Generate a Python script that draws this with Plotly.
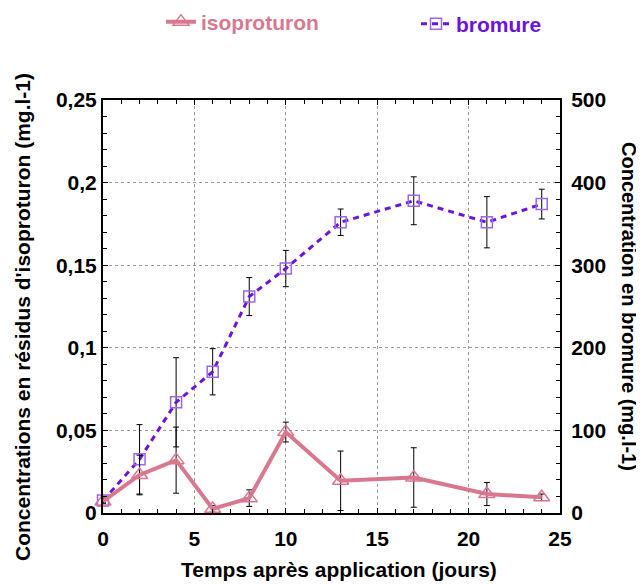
import plotly.graph_objects as go

# Data
jours = [0, 2, 4, 6, 8, 10, 13, 17, 21, 24]
isoproturon = [0.007, 0.023, 0.032, 0.0025, 0.009, 0.049, 0.0195, 0.0215, 0.0115, 0.0095]
isoproturon_err = [0.001, 0.012, 0.020, 0.002, 0.005, 0.006, 0.018, 0.018, 0.007, 0.002]
bromure = [15, 65, 134, 171, 262, 296, 352, 378, 352, 374]
bromure_err = [3, 42, 54, 28, 23, 22, 16, 29, 31, 18]

left_ticks = [0, 0.05, 0.1, 0.15, 0.2, 0.25]
left_labels = ["0", "0,05", "0,1", "0,15", "0,2", "0,25"]
right_ticks = [0, 100, 200, 300, 400, 500]
x_ticks = [0, 5, 10, 15, 20, 25]

PINK = "#D9778F"
PURPLE = "#6A14DE"
PURPLE_LIGHT = "#9A66EA"
FONT = "Liberation Sans, Arial, sans-serif"

# page has an 8px body margin: size the figure so it fits the 644x586 window
OFF = 8
W, H = 644 - OFF, 586 - OFF
L, R, T, B = 103 - OFF, 84, 100 - OFF, 73
PW, PH = W - L - R, H - T - B

fig = go.Figure()

fig.add_trace(go.Scatter(
    x=jours, y=bromure, yaxis="y", name="bromure", legend="legend2",
    mode="lines+markers", cliponaxis=False,
    line=dict(color=PURPLE, width=3, dash="6px,5px"),
    marker=dict(symbol="square-open", size=11, color=PURPLE_LIGHT, line=dict(width=1.5, color=PURPLE_LIGHT)),
    error_y=dict(type="data", array=bromure_err, color="black", thickness=1, width=3),
))

fig.add_trace(go.Scatter(
    x=jours, y=isoproturon, yaxis="y2", name="isoproturon", legend="legend",
    mode="lines+markers", cliponaxis=False,
    line=dict(color=PINK, width=4),
    marker=dict(symbol="triangle-up-open", size=14, color=PINK, line=dict(width=1.5, color=PINK)),
    error_y=dict(type="data", array=isoproturon_err, color="black", thickness=1, width=3),
))

tickfont = dict(family=FONT, size=21, color="black", weight="bold")
titlefont = dict(family=FONT, size=21, color="black", weight="bold")
rtitlefont = dict(family=FONT, size=20, color="black", weight="bold")

def px_x(p):
    # p: x pixel in the 644x586 window
    return (p - OFF - L) / PW

def px_y(p):
    return (H - B - (p - OFF)) / PH

fig.update_layout(
    width=W, height=H,
    margin=dict(l=L, r=R, t=T, b=B, autoexpand=False),
    plot_bgcolor="white", paper_bgcolor="white",
    font=dict(family=FONT, color="black"),
    xaxis=dict(
        range=[0, 25], tickvals=x_ticks, ticktext=[str(v) for v in x_ticks],
        ticks="inside", ticklen=5, tickwidth=1, tickcolor="black",
        minor=dict(dtick=1, ticks="inside", ticklen=4, tickcolor="black", showgrid=False),
        showline=True, linecolor="black", linewidth=2, mirror="ticks",
        showgrid=True, gridcolor="#999999", griddash="dot", gridwidth=1,
        zeroline=False, tickfont=tickfont, ticklabelstandoff=6, automargin=False,
    ),
    yaxis=dict(
        side="right", range=[0, 500], tickvals=right_ticks,
        ticktext=[str(v) for v in right_ticks],
        ticks="inside", ticklen=5, tickwidth=1, tickcolor="black",
        minor=dict(dtick=20, ticks="inside", ticklen=4, tickcolor="black", showgrid=False),
        showline=True, linecolor="black", linewidth=2,
        showgrid=True, gridcolor="#999999", griddash="dot", gridwidth=1,
        zeroline=False, tickfont=tickfont, ticklabelstandoff=5, automargin=False,
    ),
    yaxis2=dict(
        overlaying="y", side="left", range=[0, 0.25], tickvals=left_ticks, ticktext=left_labels,
        ticks="inside", ticklen=5, tickwidth=1, tickcolor="black",
        minor=dict(dtick=0.01, ticks="inside", ticklen=4, tickcolor="black", showgrid=False),
        showline=True, linecolor="black", linewidth=2,
        showgrid=False, zeroline=False, tickfont=tickfont, ticklabelstandoff=0, automargin=False,
    ),
    legend=dict(
        x=px_x(161), y=px_y(22), xanchor="left", yanchor="middle", bgcolor="rgba(0,0,0,0)",
        font=dict(family=FONT, size=21, color=PINK, weight="bold"),
    ),
    legend2=dict(
        x=px_x(416), y=px_y(24), xanchor="left", yanchor="middle", bgcolor="rgba(0,0,0,0)",
        font=dict(family=FONT, size=21, color=PURPLE, weight="bold"),
    ),
    showlegend=True,
    annotations=[
        dict(text="Temps après application (jours)", xref="paper", yref="paper",
             x=px_x(339), y=px_y(569), xanchor="center", yanchor="middle",
             showarrow=False, font=titlefont),
        dict(text="Concentrations en résidus d'isoproturon (mg.l-1)", xref="paper", yref="paper",
             x=px_x(22), y=px_y(317), xanchor="center", yanchor="middle", textangle=-90,
             showarrow=False, font=titlefont),
        dict(text="Concentration en bromure (mg.l-1)", xref="paper", yref="paper",
             x=px_x(629), y=px_y(306), xanchor="center", yanchor="middle", textangle=90,
             showarrow=False, font=rtitlefont),
    ],
)

fig.write_html("out.html")
